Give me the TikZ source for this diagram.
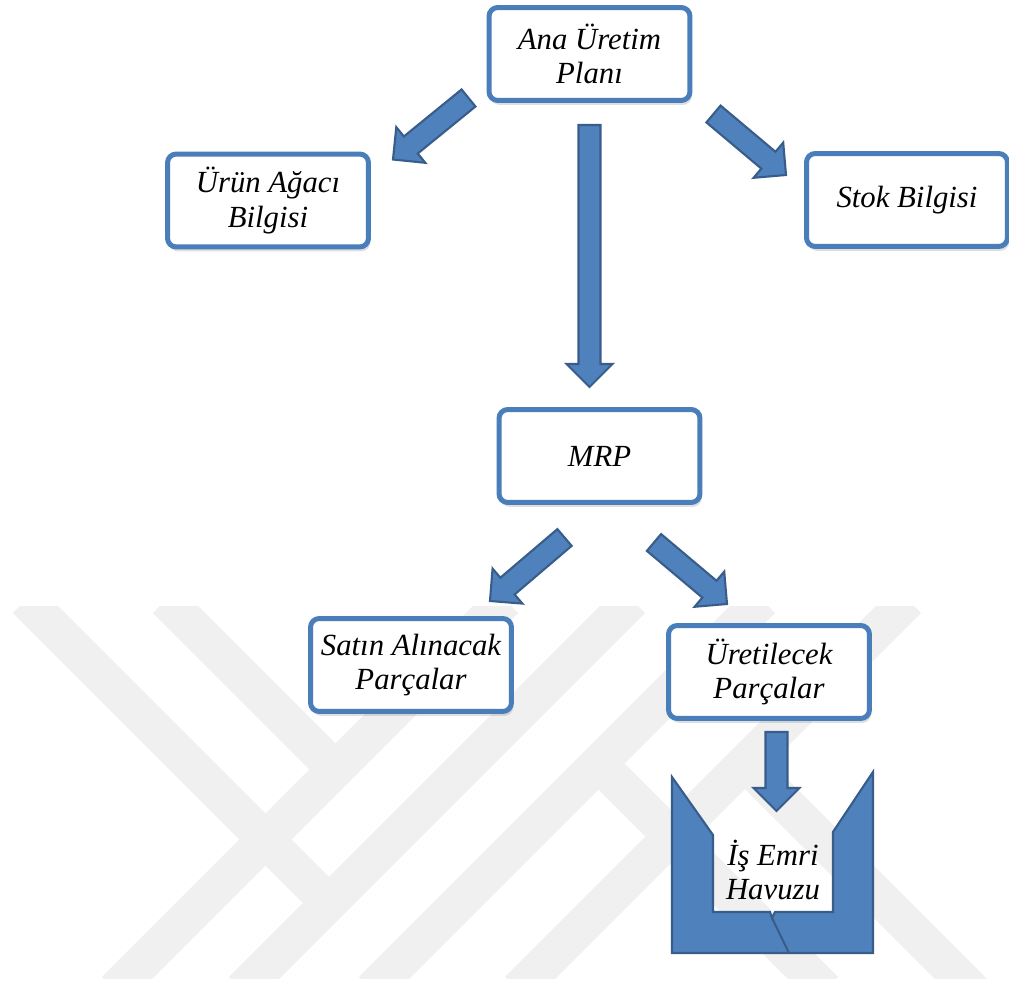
\documentclass[tikz,border=0pt]{standalone}
\usepackage{fontspec}
\setmainfont{Liberation Serif}
\usetikzlibrary{calc,shadows}
\definecolor{BoxBlue}{RGB}{74,126,187}
\definecolor{ArrFill}{RGB}{79,129,189}
\definecolor{ArrLine}{RGB}{56,93,138}
\definecolor{MarkGray}{RGB}{240,240,240}
\tikzset{
  box/.style={draw=BoxBlue,fill=white,line width=2.85pt,rounded corners=5pt,
    minimum width=4.02cm,minimum height=1.86cm,align=center,inner sep=2pt,
    font=\fontsize{17.5}{19.5}\selectfont\itshape,
    drop shadow={shadow xshift=1pt,shadow yshift=-2.5pt,opacity=0.25}},
  barrow/.style={fill=ArrFill,draw=ArrLine,line width=1.2pt,line join=miter},
  pool/.style={fill=ArrFill,draw=ArrLine,line width=1.2pt,line join=miter},
  stripe/.style={draw=MarkGray,line width=0.74cm},
  lbl/.style={align=center,inner sep=0pt,font=\fontsize{17.5}{19.5}\selectfont\itshape},
}
\newcommand{\blockarrow}[2]{%
  \path #1 coordinate (bt) #2 coordinate (bh);
  \path ($(bh)!0.46cm!(bt)$) coordinate (bb);
  \draw[barrow] ($(bt)!0.22cm!90:(bh)$) -- ($(bb)!0.22cm!90:(bh)$)
    -- ($(bb)!0.46cm!90:(bh)$) -- (bh) -- ($(bb)!0.46cm!-90:(bh)$)
    -- ($(bb)!0.22cm!-90:(bh)$) -- ($(bt)!0.22cm!-90:(bh)$) -- cycle;
}

\begin{document}
\begin{tikzpicture}[x=0.02cm,y=-0.02cm]
\useasboundingbox (0,0) rectangle (1009,983);
\begin{scope}
\clip (0,607) rectangle (1009,978);
\foreach \c in {495,622,752,898}
  \draw[stripe] (\c+10,600) -- (\c-380,990);
\draw[stripe] (166,600) -- (335.5,769.5);
\draw[stripe] (26,600) -- (329,903);
\draw[stripe] (745,763) -- (1000,1018);
\draw[stripe] (598.5,763.5) -- (825,990);
\end{scope}
\node[box] (ana) at (589.5,54) {Ana Üretim\\Planı};
\node[box] (urun) at (268,200.5) {Ürün Ağacı\\Bilgisi};
\node[box] (stok) at (907,200) {Stok Bilgisi};
\node[box] (mrp) at (599.5,456) {MRP};
\node[box] (satin) at (411,665) {Satın Alınacak\\Parçalar};
\node[box] (uret) at (769,672) {Üretilecek\\Parçalar};
\blockarrow{($(ana.south west)+(-18,-5)$)}{($(urun.north east)+(22,8)$)}
\blockarrow{($(ana.south east)+(21,11)$)}{($(stok.north west)+(-18,24)$)}
\blockarrow{($(ana.south)+(0,22)$)}{($(ana.south |- mrp.north)+(0,-20)$)}
\blockarrow{($(mrp.south west)+(68,32.5)$)}{($(satin.north east)+(-24,-15)$)}
\blockarrow{($(mrp.south east)+(-48.5,37.5)$)}{($(uret.north west)+(61,-19)$)}
\blockarrow{($(uret.south)+(7.5,11)$)}{($(uret.south)+(7.5,90)$)}
\draw[pool] (672,777) -- (713,835) -- (713,912) -- (770,912) -- (772,918)
  -- (775,912) -- (833,912) -- (833,832) -- (873,772) -- (873,953)
  -- (672,953) -- cycle;
\draw[ArrLine,line width=1.2pt] (772,918) -- (789,953);
\node[lbl] (havuz) at (773,870) {İş Emri\\Havuzu};
\end{tikzpicture}
\end{document}
